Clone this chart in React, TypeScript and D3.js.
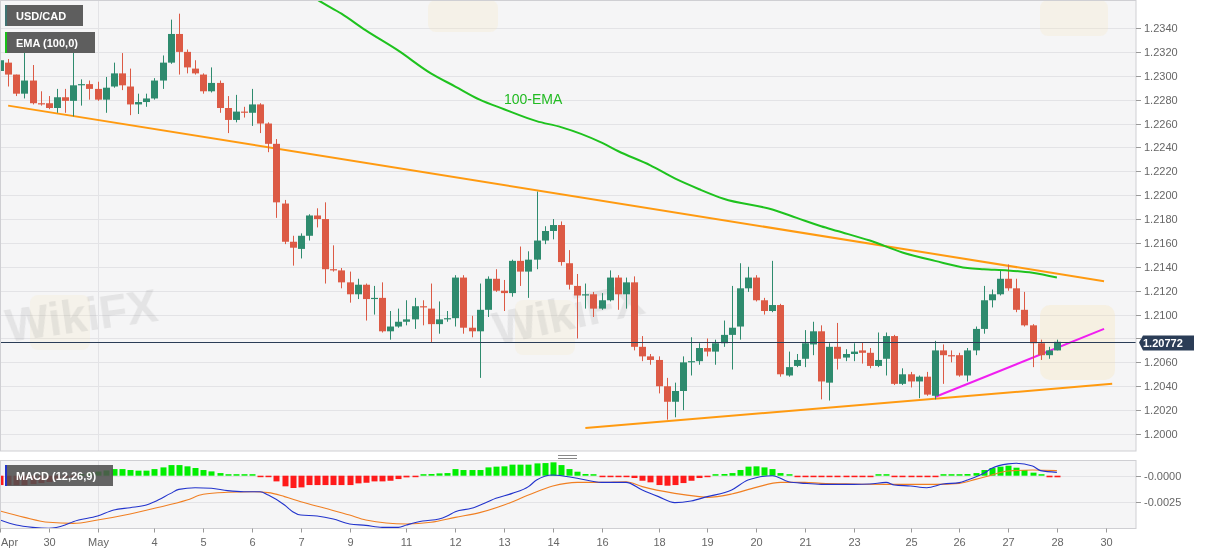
import React from 'react';
import * as d3 from 'd3';

// ---------- DATA (4-hour USD/CAD candles) ----------
const OPEN = [
  1.2304, 1.2311, 1.2301, 1.2285, 1.2296, 1.2277, 1.2277, 1.2273, 1.2282, 1.2279,
  1.2292, 1.2293, 1.2289, 1.2280, 1.2291, 1.2302, 1.2291, 1.2276, 1.2278, 1.2281,
  1.2296, 1.2311, 1.2335, 1.2320, 1.2306, 1.2301, 1.2287, 1.2294, 1.2273, 1.2263,
  1.2270, 1.2269, 1.2276, 1.2260, 1.2243, 1.2193, 1.2161, 1.2155, 1.2166, 1.2183,
  1.2180, 1.2138, 1.2137, 1.2127, 1.2117, 1.2125, 1.2113, 1.2114, 1.2086, 1.2090,
  1.2094, 1.2096, 1.2107, 1.2105, 1.2092, 1.2096, 1.2097, 1.2131, 1.2089, 1.2086,
  1.2104, 1.2130, 1.2120, 1.2118, 1.2145, 1.2136, 1.2146, 1.2162, 1.2170, 1.2175,
  1.2143, 1.2124, 1.2116, 1.2117, 1.2105, 1.2112, 1.2131, 1.2117, 1.2127, 1.2073,
  1.2065, 1.2062, 1.2040, 1.2027, 1.2036, 1.2060, 1.2061, 1.2072, 1.2069, 1.2076,
  1.2083, 1.2090, 1.2122, 1.2131, 1.2112, 1.2103, 1.2108, 1.2049, 1.2057, 1.2063,
  1.2075, 1.2086, 1.2043, 1.2073, 1.2064, 1.2067, 1.2070, 1.2068, 1.2057, 1.2063,
  1.2082, 1.2042, 1.2050, 1.2044, 1.2048, 1.2032, 1.2070, 1.2066, 1.2066, 1.2049,
  1.2070, 1.2088, 1.2112, 1.2117, 1.2130, 1.2122, 1.2104, 1.2091, 1.2076, 1.2066,
  1.2070,
];
const HIGH = [
  1.2320, 1.2314, 1.2301, 1.2322, 1.2309, 1.2287, 1.2283, 1.2289, 1.2289, 1.2328,
  1.2297, 1.2296, 1.2295, 1.2299, 1.2311, 1.2319, 1.2306, 1.2285, 1.2285, 1.2298,
  1.2317, 1.2347, 1.2352, 1.2322, 1.2313, 1.2302, 1.2307, 1.2296, 1.2283, 1.2284,
  1.2274, 1.2289, 1.2277, 1.2261, 1.2247, 1.2196, 1.2166, 1.2168, 1.2184, 1.2189,
  1.2194, 1.2158, 1.2139, 1.2136, 1.2130, 1.2126, 1.2124, 1.2127, 1.2103, 1.2105,
  1.2112, 1.2114, 1.2112, 1.2126, 1.2111, 1.2103, 1.2133, 1.2133, 1.2099, 1.2126,
  1.2132, 1.2138, 1.2129, 1.2146, 1.2157, 1.2153, 1.2203, 1.2174, 1.2180, 1.2178,
  1.2154, 1.2134, 1.2126, 1.2119, 1.2118, 1.2137, 1.2133, 1.2131, 1.2132, 1.2082,
  1.2067, 1.2065, 1.2047, 1.2043, 1.2065, 1.2081, 1.2076, 1.2080, 1.2079, 1.2095,
  1.2124, 1.2143, 1.2140, 1.2133, 1.2114, 1.2145, 1.2109, 1.2069, 1.2067, 1.2087,
  1.2094, 1.2091, 1.2076, 1.2093, 1.2071, 1.2076, 1.2077, 1.2072, 1.2085, 1.2085,
  1.2083, 1.2055, 1.2052, 1.2049, 1.2052, 1.2078, 1.2075, 1.2070, 1.2068, 1.2072,
  1.2090, 1.2124, 1.2121, 1.2137, 1.2142, 1.2130, 1.2119, 1.2092, 1.2079, 1.2073,
  1.2079,
];
const LOW = [
  1.2288, 1.2291, 1.2283, 1.2281, 1.2276, 1.2275, 1.2272, 1.2269, 1.2269, 1.2266,
  1.2275, 1.2280, 1.2279, 1.2269, 1.2290, 1.2288, 1.2267, 1.2268, 1.2274, 1.2280,
  1.2289, 1.2310, 1.2301, 1.2302, 1.2301, 1.2285, 1.2286, 1.2269, 1.2252, 1.2261,
  1.2265, 1.2258, 1.2252, 1.2236, 1.2181, 1.2159, 1.2141, 1.2147, 1.2162, 1.2173,
  1.2126, 1.2136, 1.2122, 1.2110, 1.2113, 1.2095, 1.2100, 1.2085, 1.2079, 1.2089,
  1.2091, 1.2088, 1.2091, 1.2077, 1.2084, 1.2094, 1.2090, 1.2084, 1.2081, 1.2047,
  1.2098, 1.2119, 1.2103, 1.2115, 1.2124, 1.2114, 1.2138, 1.2159, 1.2163, 1.2141,
  1.2121, 1.2080, 1.2105, 1.2098, 1.2104, 1.2111, 1.2104, 1.2105, 1.2070, 1.2061,
  1.2058, 1.2034, 1.2012, 1.2014, 1.2020, 1.2049, 1.2058, 1.2065, 1.2058, 1.2073,
  1.2054, 1.2079, 1.2119, 1.2111, 1.2100, 1.2102, 1.2048, 1.2048, 1.2056, 1.2056,
  1.2066, 1.2029, 1.2028, 1.2054, 1.2061, 1.2061, 1.2059, 1.2055, 1.2056, 1.2049,
  1.2041, 1.2041, 1.2039, 1.2030, 1.2032, 1.2029, 1.2042, 1.2060, 1.2048, 1.2044,
  1.2066, 1.2084, 1.2106, 1.2116, 1.2120, 1.2102, 1.2090, 1.2056, 1.2062, 1.2063,
  1.2070,
];
const CLOSE = [
  1.2313, 1.2301, 1.2285, 1.2296, 1.2277, 1.2276, 1.2273, 1.2282, 1.2279, 1.2292,
  1.2293, 1.2289, 1.2280, 1.2290, 1.2302, 1.2292, 1.2276, 1.2278, 1.2281, 1.2296,
  1.2311, 1.2335, 1.2320, 1.2307, 1.2302, 1.2287, 1.2294, 1.2273, 1.2263, 1.2270,
  1.2269, 1.2276, 1.2260, 1.2243, 1.2194, 1.2161, 1.2156, 1.2166, 1.2183, 1.2180,
  1.2138, 1.2137, 1.2127, 1.2117, 1.2125, 1.2113, 1.2114, 1.2086, 1.2090, 1.2094,
  1.2096, 1.2107, 1.2106, 1.2092, 1.2096, 1.2097, 1.2131, 1.2089, 1.2086, 1.2104,
  1.2130, 1.2120, 1.2118, 1.2145, 1.2136, 1.2146, 1.2162, 1.2170, 1.2175, 1.2144,
  1.2125, 1.2116, 1.2117, 1.2105, 1.2112, 1.2131, 1.2117, 1.2127, 1.2073, 1.2065,
  1.2062, 1.2040, 1.2027, 1.2036, 1.2060, 1.2061, 1.2072, 1.2069, 1.2076, 1.2083,
  1.2089, 1.2122, 1.2131, 1.2112, 1.2103, 1.2108, 1.2050, 1.2056, 1.2062, 1.2076,
  1.2086, 1.2044, 1.2073, 1.2063, 1.2067, 1.2069, 1.2068, 1.2057, 1.2062, 1.2082,
  1.2042, 1.2050, 1.2044, 1.2048, 1.2033, 1.2070, 1.2066, 1.2065, 1.2049, 1.2070,
  1.2088, 1.2112, 1.2117, 1.2130, 1.2122, 1.2104, 1.2091, 1.2076, 1.2066, 1.2070,
  1.20772,
];

const EMA_IDX = [37, 39, 42, 45, 49, 53, 56, 59, 62, 66, 69, 74, 76, 80, 83, 86, 89, 95, 98, 101, 103, 107, 111, 115, 119, 121, 124, 127, 130];
const EMA_VAL = [1.2374, 1.2364, 1.2352, 1.2338, 1.2321, 1.2302, 1.2291, 1.2280, 1.2272, 1.2262, 1.2257, 1.2244, 1.2237, 1.2225, 1.2214, 1.2205, 1.2197, 1.2188, 1.2181, 1.2174, 1.2170, 1.2162, 1.2152, 1.2145, 1.2139, 1.2138, 1.2137, 1.2135, 1.2131];

const MACD_IDX = [0, 2, 4, 6, 8, 9, 12, 14, 16, 18, 19, 21, 22, 24, 26, 28, 30, 32, 33, 35, 36, 37, 39, 41, 43, 45, 47, 49, 50, 52, 54, 55, 56, 58, 60, 61, 63, 65, 66, 68, 71, 74, 77, 79, 81, 83, 85, 87, 90, 92, 93, 95, 97, 99, 101, 103, 105, 107, 109, 110, 112, 114, 116, 118, 119, 121, 122, 124, 125, 127, 128, 130];
const MACD_VAL = [-0.00421, -0.00469, -0.00491, -0.0050, -0.00469, -0.00437, -0.00383, -0.00326, -0.00304, -0.00279, -0.00247, -0.00168, -0.0013, -0.00114, -0.0012, -0.00142, -0.00152, -0.00152, -0.00184, -0.00279, -0.00342, -0.00374, -0.00383, -0.00412, -0.00459, -0.00472, -0.00491, -0.00491, -0.00469, -0.00431, -0.00412, -0.00383, -0.00342, -0.0031, -0.00247, -0.00215, -0.00168, -0.00104, -0.00041, 0.00007, -0.00025, -0.00063, -0.00063, -0.00136, -0.00199, -0.00256, -0.0024, -0.00199, -0.00136, -0.00041, -0.00019, 0.0, -0.00057, -0.00073, -0.00082, -0.00082, -0.00082, -0.00079, -0.00063, -0.00088, -0.00098, -0.00114, -0.00079, -0.00066, -0.00041, 0.00023, 0.0007, 0.00112, 0.00118, 0.00093, 0.00048, 0.00032];

const SIGNAL_IDX = [0, 3, 6, 9, 12, 16, 19, 23, 25, 28, 31, 33, 35, 37, 40, 43, 45, 50, 53, 56, 59, 62, 65, 68, 71, 74, 77, 79, 83, 86, 87, 90, 93, 96, 99, 101, 105, 109, 112, 115, 118, 120, 122, 124, 127, 130];
const SIGNAL_VAL = [-0.00336, -0.00396, -0.00443, -0.00453, -0.00421, -0.00364, -0.0031, -0.00231, -0.00177, -0.00158, -0.00152, -0.00161, -0.00199, -0.00247, -0.0031, -0.00374, -0.00421, -0.00459, -0.00443, -0.00396, -0.00351, -0.00279, -0.00184, -0.00098, -0.00063, -0.00063, -0.00057, -0.00104, -0.00168, -0.00199, -0.00206, -0.00174, -0.00111, -0.00063, -0.00063, -0.00073, -0.00079, -0.00082, -0.00082, -0.00082, -0.00073, -0.00035, 0.00007, 0.00045, 0.00054, 0.00048];

const HIST = [
  -0.00089, -0.0009, -0.0009, -0.0009, -0.0008, -0.0007, -0.0006, -0.0004, -0.0002, -0.0001,
  0.0001, 0.0003, 0.0004, 0.0005, 0.00063, 0.00063, 0.00054, 0.00048, 0.00048, 0.00063,
  0.00079, 0.00101, 0.00101, 0.00089, 0.00073, 0.00054, 0.00041, 0.00025, 0.00006, 0.00003,
  0.00003, 0.00003, -0.00003, -0.0001, -0.00054, -0.00101, -0.00117, -0.00111, -0.00089, -0.00089,
  -0.00089, -0.00089, -0.00089, -0.00089, -0.00073, -0.00067, -0.00054, -0.00054, -0.00048, -0.00032,
  -0.00016, -0.00003, 0.00006, 0.00016, 0.00022, 0.00025, 0.00063, 0.00054, 0.00054, 0.00054,
  0.00079, 0.00086, 0.00089, 0.00105, 0.00105, 0.00105, 0.00117, 0.0012, 0.00127, 0.00101,
  0.00063, 0.00038, 0.00016, 0.00003, -0.00003, -0.00003, -0.00002, -0.00006, -0.00022, -0.00048,
  -0.00063, -0.00089, -0.00095, -0.00089, -0.0007, -0.00048, -0.00022, -0.0001, 0.00006, 0.00016,
  0.00025, 0.00054, 0.00086, 0.00089, 0.00079, 0.00063, 0.00025, 0.00003, -0.00003, -0.00006,
  -0.00003, -0.0001, -0.0001, -0.0001, -0.00006, -0.00003, -0.00002, -0.00002, 0.00003, 0.0001,
  -0.00002, -0.00006, -0.0001, -0.0001, -0.00013, -0.00003, 0.00006, 0.00006, 0.0001, 0.00016,
  0.00025, 0.00054, 0.00073, 0.00086, 0.00095, 0.00076, 0.00054, 0.00029, 0.00003, -0.00015,
  -0.00015,
];

const TICK_IDX = [0, 6, 12, 19, 25, 31, 37, 43, 50, 56, 62, 68, 74, 81, 87, 93, 99, 105, 112, 118, 124, 130, 136];
const TICK_LABELS = ['Apr', '30', 'May', '4', '5', '6', '7', '9', '11', '12', '13', '14', '16', '18', '19', '20', '21', '23', '25', '26', '27', '28', '30'];

const PRICE_TICKS = [1.2000, 1.2020, 1.2040, 1.2060, 1.2080, 1.2100, 1.2120, 1.2140, 1.2160, 1.2180, 1.2200, 1.2220, 1.2240, 1.2260, 1.2280, 1.2300, 1.2320, 1.2340];
const MACD_TICKS = [0, -0.0025];
const MACD_TICK_LABELS = ['-0.0000', '-0.0025'];
const LAST_PRICE = 1.20772;

// trend lines: [candle index, price]
const TREND_DOWN = [[1, 1.2275], [135.8, 1.2128]];
const TREND_UP = [[72, 1.2005], [136.8, 1.2042]];
const TREND_SHORT = [[115, 1.2031], [135.8, 1.2088]];

// ---------- COMPONENT ----------
export default function App() {
  const W = 1207;
  const H = 555;
  const plotR = 1136;
  const mainBot = 451;
  const macdTop = 460.5;
  const macdBot = 528.5;

  const x = d3.scaleLinear().domain([0, 139.73]).range([0, plotR]);
  const y = d3.scaleLinear().domain([1.2, 1.234]).range([434, 28]);
  const ym = d3.scaleLinear().domain([-0.0025, 0]).range([502, 475.7]);

  const idx = d3.range(OPEN.length);
  const UP = '#2e8b6e';
  const DOWN = '#dc5a45';

  const emaLine = d3
    .line<number>()
    .x((i) => x(EMA_IDX[i]))
    .y((i) => y(EMA_VAL[i]))
    .curve(d3.curveMonotoneX)(d3.range(EMA_IDX.length)) as string;

  const macdLine = d3
    .line<number>()
    .x((i) => x(MACD_IDX[i]))
    .y((i) => ym(MACD_VAL[i]))
    .curve(d3.curveMonotoneX)(d3.range(MACD_IDX.length)) as string;

  const sigLine = d3
    .line<number>()
    .x((i) => x(SIGNAL_IDX[i]))
    .y((i) => ym(SIGNAL_VAL[i]))
    .curve(d3.curveMonotoneX)(d3.range(SIGNAL_IDX.length)) as string;

  const seg = (pts: number[][]) =>
    d3.line<number[]>().x((p) => x(p[0])).y((p) => y(p[1]))(pts) as string;

  const font = 'Arial, "Liberation Sans", sans-serif';
  const lastY = Math.round(y(LAST_PRICE)) + 0.5;

  return (
    <div style={{ position: 'absolute', left: 0, top: 0, width: W, height: H, background: '#fff' }}>
      <svg width={W} height={H} style={{ display: 'block' }} fontFamily={font}>
        <defs>
          <clipPath id="clipMain">
            <rect x={0} y={0} width={plotR} height={mainBot} />
          </clipPath>
          <clipPath id="clipMacd">
            <rect x={0} y={macdTop} width={plotR} height={macdBot - macdTop} />
          </clipPath>
        </defs>

        {/* main panel background */}
        <rect x={0} y={0} width={plotR} height={mainBot} fill="#f5f5f6" />
        {PRICE_TICKS.map((p) => (
          <line key={'g' + p} x1={0} x2={plotR} y1={Math.round(y(p)) + 0.5} y2={Math.round(y(p)) + 0.5} stroke="#e3e3e6" strokeWidth={1} />
        ))}
        <line x1={Math.round(x(12)) + 0.5} x2={Math.round(x(12)) + 0.5} y1={0} y2={mainBot} stroke="#e3e3e6" />

        {/* faint watermarks */}
        <g opacity={0.5}>
          <rect x={428} y={0} width={70} height={32} rx={8} fill="#f7e7c0" opacity={0.5} />
          <rect x={1040} y={0} width={68} height={36} rx={8} fill="#f7e7c0" opacity={0.5} />
          <rect x={1040} y={305} width={75} height={75} rx={10} fill="#f7e2b0" opacity={0.55} />
          <rect x={30} y={295} width={60} height={55} rx={8} fill="#f7e7c0" opacity={0.45} />
          <rect x={515} y={300} width={60} height={55} rx={8} fill="#f7e7c0" opacity={0.45} />
        </g>
        <g fill="#8a8a8a" opacity={0.16} fontWeight="bold" fontSize={46}>
          <text x={8} y={342} transform="rotate(-8 8 342)">WikiFX</text>
          <text x={497} y={345} transform="rotate(-12 497 345)">WikiFX</text>
        </g>

        <g clipPath="url(#clipMain)">
          {/* trend lines */}
          <path d={seg(TREND_DOWN)} stroke="#ff9a10" strokeWidth={2} fill="none" />
          <path d={seg(TREND_UP)} stroke="#ff9a10" strokeWidth={2} fill="none" />
          <path d={seg(TREND_SHORT)} stroke="#f01ef0" strokeWidth={2} fill="none" />

          {/* candles */}
          {idx.map((i) => {
            const up = CLOSE[i] >= OPEN[i];
            const c = up ? UP : DOWN;
            const xc = Math.round(x(i));
            const top = y(Math.max(OPEN[i], CLOSE[i]));
            const bot = y(Math.min(OPEN[i], CLOSE[i]));
            return (
              <g key={'c' + i}>
                <line x1={xc + 0.5} x2={xc + 0.5} y1={y(HIGH[i])} y2={y(LOW[i])} stroke={c} strokeWidth={1} />
                <rect x={xc - 3} y={top} width={7} height={Math.max(1, bot - top)} fill={c} />
              </g>
            );
          })}

          {/* EMA */}
          <path d={emaLine} stroke="#1ec21e" strokeWidth={2} fill="none" />

          {/* last price line */}
          <line x1={0} x2={plotR} y1={lastY} y2={lastY} stroke="#2b3d57" strokeWidth={1} />
        </g>
        <rect x={0.5} y={0.5} width={plotR - 0.5} height={mainBot - 0.5} fill="none" stroke="#cfcfd3" />

        <text x={504} y={104} fill="#22bb22" fontSize={14}>100-EMA</text>

        {/* right price axis */}
        {PRICE_TICKS.map((p) => (
          <g key={'t' + p}>
            <line x1={plotR} x2={plotR + 5} y1={Math.round(y(p)) + 0.5} y2={Math.round(y(p)) + 0.5} stroke="#999" />
            {Math.abs(y(p) - lastY) > 10 && (
              <text x={1144} y={y(p) + 4} fontSize={11} fill="#666">{p.toFixed(4)}</text>
            )}
          </g>
        ))}
        {/* last price label */}
        <path
          d={`M${plotR + 3},${lastY} L${plotR + 7},${lastY - 7} L${1194},${lastY - 7} L${1194},${lastY + 8} L${plotR + 7},${lastY + 8} Z`}
          fill="#2b3d57"
        />
        <text x={1143} y={lastY + 4} fontSize={11} fontWeight="bold" fill="#fff">{LAST_PRICE.toFixed(5)}</text>

        {/* panel splitter handle */}
        <line x1={558} x2={577} y1={455.5} y2={455.5} stroke="#888" />
        <line x1={558} x2={577} y1={458.5} y2={458.5} stroke="#888" />

        {/* MACD panel */}
        <rect x={0} y={macdTop} width={plotR} height={macdBot - macdTop} fill="#f5f5f6" />
        {MACD_TICKS.map((v) => (
          <line key={'mg' + v} x1={0} x2={plotR} y1={Math.round(ym(v)) + 0.5} y2={Math.round(ym(v)) + 0.5} stroke="#e3e3e6" />
        ))}
        <line x1={Math.round(x(12)) + 0.5} x2={Math.round(x(12)) + 0.5} y1={macdTop} y2={macdBot} stroke="#e3e3e6" />
        <g clipPath="url(#clipMacd)">
          {idx.map((i) => {
            const v = HIST[i];
            const z = ym(0);
            const yv = ym(v);
            let top = Math.min(z, yv);
            let h = Math.abs(yv - z);
            if (h < 1.5) {
              h = 1.5;
              if (v < 0) top = z; else top = z - 1.5;
            }
            const xc = Math.round(x(i));
            return (
              <rect key={'h' + i} x={xc - 2.5} y={top} width={6} height={h} fill={v >= 0 ? '#00ee00' : '#ff1a1a'} />
            );
          })}
          <path d={sigLine} stroke="#f07f22" strokeWidth={1.1} fill="none" />
          <path d={macdLine} stroke="#2233cc" strokeWidth={1.1} fill="none" />
        </g>
        <rect x={0.5} y={macdTop} width={plotR - 0.5} height={macdBot - macdTop} fill="none" stroke="#cfcfd3" />

        {MACD_TICKS.map((v, k) => (
          <g key={'mt' + v}>
            <line x1={plotR} x2={plotR + 5} y1={Math.round(ym(v)) + 0.5} y2={Math.round(ym(v)) + 0.5} stroke="#999" />
            <text x={1144} y={ym(v) + 4} fontSize={11} fill="#666">{MACD_TICK_LABELS[k]}</text>
          </g>
        ))}

        {/* x axis */}
        {TICK_IDX.map((t, k) => {
          const xt = Math.round(x(t)) + 0.5;
          return (
            <g key={'x' + k}>
              <line x1={xt} x2={xt} y1={macdBot} y2={macdBot + 4} stroke="#999" />
              <text
                x={k === 0 ? 1 : xt}
                y={546}
                fontSize={11}
                fill="#666"
                textAnchor={k === 0 ? 'start' : 'middle'}
              >
                {TICK_LABELS[k]}
              </text>
            </g>
          );
        })}

        {/* legends */}
        <g>
          <rect x={5} y={5} width={78} height={21} fill="#5e5e5e" />
          <rect x={5} y={5} width={2} height={21} fill="#3f7272" />
          <text x={16} y={19.5} fontSize={11} fontWeight="bold" fill="#fff">USD/CAD</text>

          <rect x={5} y={32} width={90} height={21} fill="#5e5e5e" />
          <rect x={5} y={32} width={2} height={21} fill="#19c019" />
          <text x={16} y={46.5} fontSize={11} fontWeight="bold" fill="#fff">EMA (100,0)</text>

          <rect x={5} y={465} width={108} height={21} fill="#505050" opacity={0.88} />
          <rect x={5} y={465} width={2} height={21} fill="#2233cc" />
          <text x={16} y={479.5} fontSize={11} fontWeight="bold" fill="#fff">MACD (12,26,9)</text>
        </g>
      </svg>
    </div>
  );
}
